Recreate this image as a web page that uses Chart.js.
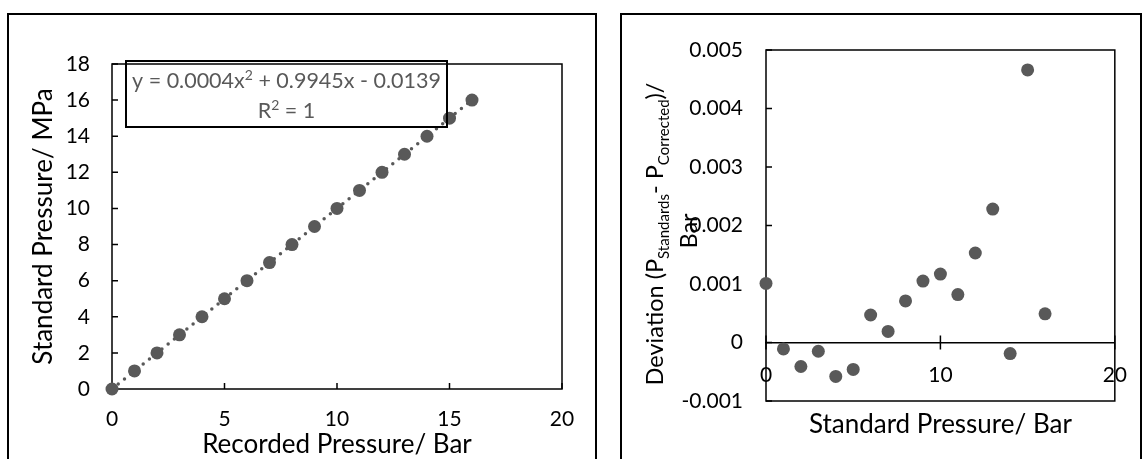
<!DOCTYPE html>
<html>
<head>
<meta charset="utf-8">
<title>Pressure calibration</title>
<script src="https://cdn.jsdelivr.net/npm/chart.js@4.4.1/dist/chart.umd.min.js"></script>
<style>
  html, body { margin: 0; padding: 0; background: #fff; }
  body { width: 1147px; height: 459px; position: relative; overflow: hidden; }
  canvas { position: absolute; top: 0; }
  #calibChart { left: 0; }
  #devChart { left: 610px; }
  .panel { position: absolute; border: 2px solid #000; pointer-events: none; }
  #panelLeft { left: 7px; top: 13px; width: 586px; height: 470px; }
  #panelRight { left: 620px; top: 13px; width: 518px; height: 470px; }
</style>
</head>
<body>
<canvas id="calibChart" width="605" height="459"></canvas>
<canvas id="devChart" width="537" height="459"></canvas>
<div class="panel" id="panelLeft"></div>
<div class="panel" id="panelRight"></div>

<script>
// Left chart: calibration points
const recordedPressure = [0, 1, 2, 3, 4, 5, 6, 7, 8, 9, 10, 11, 12, 13, 14, 15, 16];
const standardPressure = [0, 1, 2, 3, 4, 5, 6, 7, 8, 9, 10, 11, 12, 13, 14, 15, 16];

// Right chart: deviation after correction
const standardPressureBar = [0, 1, 2, 3, 4, 5, 6, 7, 8, 9, 10, 11, 12, 13, 14, 15, 16];
const deviation = [0.00101, -0.00011, -0.00041, -0.00015, -0.00058, -0.00046, 0.00047, 0.00019,
  0.00071, 0.00105, 0.00117, 0.00082, 0.00153, 0.00228, -0.00019, 0.00466, 0.00049];

// Text runs: [text, kind] with kind n = normal, sup, sub
const fitEquation = [['y = 0.0004x', 'n'], ['2', 'sup'], [' + 0.9945x - 0.0139', 'n']];
const fitR2 = [['R', 'n'], ['2', 'sup'], [' = 1', 'n']];
const devTitle = [['Deviation (P', 'n'], ['Standards', 'sub'], ['- P', 'n'], ['Corrected', 'sub'], [')/', 'n']];
const devTitle2 = [['Bar', 'n']];

const FONT = 'Lato, sans-serif';
const GREY = '#595959';

Chart.defaults.font.family = FONT;
Chart.defaults.color = '#000';

// draw a line of mixed text centred on cx
function drawRuns(ctx, runs, cx, baseY, size, color) {
  const small = Math.round(size * 0.65);
  const fontOf = k => (k === 'n' ? size : small) + 'px ' + FONT;
  let total = 0;
  runs.forEach(([t, k]) => { ctx.font = fontOf(k); total += ctx.measureText(t).width; });
  let x = cx - total / 2;
  ctx.fillStyle = color;
  ctx.textAlign = 'left';
  ctx.textBaseline = 'alphabetic';
  runs.forEach(([t, k]) => {
    ctx.font = fontOf(k);
    const dy = k === 'sup' ? -size * 0.38 : (k === 'sub' ? size * 0.25 : 0);
    ctx.fillText(t, x, baseY + dy);
    x += ctx.measureText(t).width;
  });
}

// frame round the plot area plus inward tick marks
const frameTicks = {
  id: 'frameTicks',
  beforeDatasetsDraw(chart, args, opts) {
    const {ctx, chartArea: a, scales: {x, y}} = chart;
    ctx.save();
    ctx.strokeStyle = '#000';
    ctx.lineWidth = 1.5;
    ctx.strokeRect(a.left, a.top, a.right - a.left, a.bottom - a.top);
    ctx.beginPath();
    y.ticks.forEach(t => {
      const py = y.getPixelForValue(t.value);
      ctx.moveTo(a.left, py);
      ctx.lineTo(a.left + 6, py);
    });
    x.ticks.forEach(t => {
      const px = x.getPixelForValue(t.value);
      if (opts.crossAtZero) {
        const py = y.getPixelForValue(0);
        ctx.moveTo(px, py - 7);
        ctx.lineTo(px, py + 7);
      } else {
        ctx.moveTo(px, a.bottom);
        ctx.lineTo(px, a.bottom - 6);
      }
    });
    ctx.stroke();
    ctx.restore();
  }
};

// trendline label box
const fitLabel = {
  id: 'fitLabel',
  afterDatasetsDraw(chart) {
    const {ctx, chartArea: a} = chart;
    const left = a.left + 14, top = a.top - 3, w = 321, h = 66;
    ctx.save();
    ctx.strokeStyle = '#000';
    ctx.lineWidth = 2;
    ctx.strokeRect(left, top, w, h);
    drawRuns(ctx, fitEquation, left + w / 2, top + 27, 21.5, GREY);
    drawRuns(ctx, fitR2, left + w / 2, top + 57, 21.5, GREY);
    ctx.restore();
  }
};

// rotated two-line y title with subscripts
const devAxisTitle = {
  id: 'devAxisTitle',
  afterDraw(chart) {
    const {ctx} = chart;
    ctx.save();
    ctx.translate(53, 234);
    ctx.rotate(-Math.PI / 2);
    drawRuns(ctx, devTitle, 0, 0, 23.5, '#000');
    ctx.restore();
    ctx.save();
    ctx.translate(87, 231);
    ctx.rotate(-Math.PI / 2);
    drawRuns(ctx, devTitle2, 0, 0, 23.5, '#000');
    ctx.restore();
  }
};

const calibPoints = recordedPressure.map((v, i) => ({x: v, y: standardPressure[i]}));
const devPoints = standardPressureBar.map((v, i) => ({x: v, y: deviation[i]}));

new Chart(document.getElementById('calibChart'), {
  type: 'scatter',
  data: {
    datasets: [
      {
        data: calibPoints,
        pointRadius: 6.5,
        pointBackgroundColor: GREY,
        pointBorderWidth: 0,
        clip: false,
        order: 1
      },
      {
        type: 'line',
        data: calibPoints,
        borderColor: GREY,
        borderWidth: 3.5,
        borderDash: [0, 8],
        borderCapStyle: 'round',
        pointRadius: 0,
        fill: false,
        clip: false,
        order: 2
      }
    ]
  },
  options: {
    responsive: false,
    animation: false,
    layout: { padding: { top: 64, right: 43, bottom: 0, left: 0 } },
    plugins: { legend: { display: false }, tooltip: { enabled: false } },
    scales: {
      x: {
        type: 'linear', min: 0, max: 20,
        afterFit: s => { s.height = 70; },
        ticks: { stepSize: 5, padding: 18, font: { size: 21 }, color: '#000' },
        grid: { display: false, drawTicks: false },
        border: { display: false },
        title: { display: true, text: 'Recorded Pressure/ Bar', font: { size: 26 }, padding: { top: 0, bottom: -1 }, color: '#000' }
      },
      y: {
        type: 'linear', min: 0, max: 18,
        afterFit: s => { s.width = 112; },
        ticks: { stepSize: 2, padding: 22, font: { size: 21 }, color: '#000' },
        grid: { display: false, drawTicks: false },
        border: { display: false },
        title: { display: true, text: 'Standard Pressure/ MPa', font: { size: 26 }, padding: { top: 28, bottom: 0 }, color: '#000' }
      }
    }
  },
  plugins: [frameTicks, fitLabel]
});

new Chart(document.getElementById('devChart'), {
  type: 'scatter',
  data: {
    datasets: [{
      data: devPoints,
      pointRadius: 6.5,
      pointBackgroundColor: GREY,
      pointBorderWidth: 0,
      clip: false
    }]
  },
  options: {
    responsive: false,
    animation: false,
    layout: { padding: { top: 50, right: 23, bottom: 58, left: 0 } },
    plugins: {
      legend: { display: false },
      tooltip: { enabled: false },
      frameTicks: { crossAtZero: true }
    },
    scales: {
      x: {
        type: 'linear', min: 0, max: 20,
        position: { y: 0 },
        afterFit: s => { s.height = 98; },
        ticks: { stepSize: 10, padding: 20, font: { size: 21 }, color: '#000' },
        grid: { display: false, drawTicks: false },
        border: { display: true, color: '#000', width: 1.5 },
        title: { display: true, text: 'Standard Pressure/ Bar', font: { size: 26 }, padding: { top: 0, bottom: 0 }, color: '#000' }
      },
      y: {
        type: 'linear', min: -0.001, max: 0.005,
        afterFit: s => { s.width = 156; },
        ticks: {
          stepSize: 0.001, padding: 23, font: { size: 21 }, color: '#000',
          callback: v => (Math.abs(v) < 1e-9 ? '0' : v.toFixed(3))
        },
        grid: { display: false, drawTicks: false },
        border: { display: false }
      }
    }
  },
  plugins: [frameTicks, devAxisTitle]
});
</script>
</body>
</html>
